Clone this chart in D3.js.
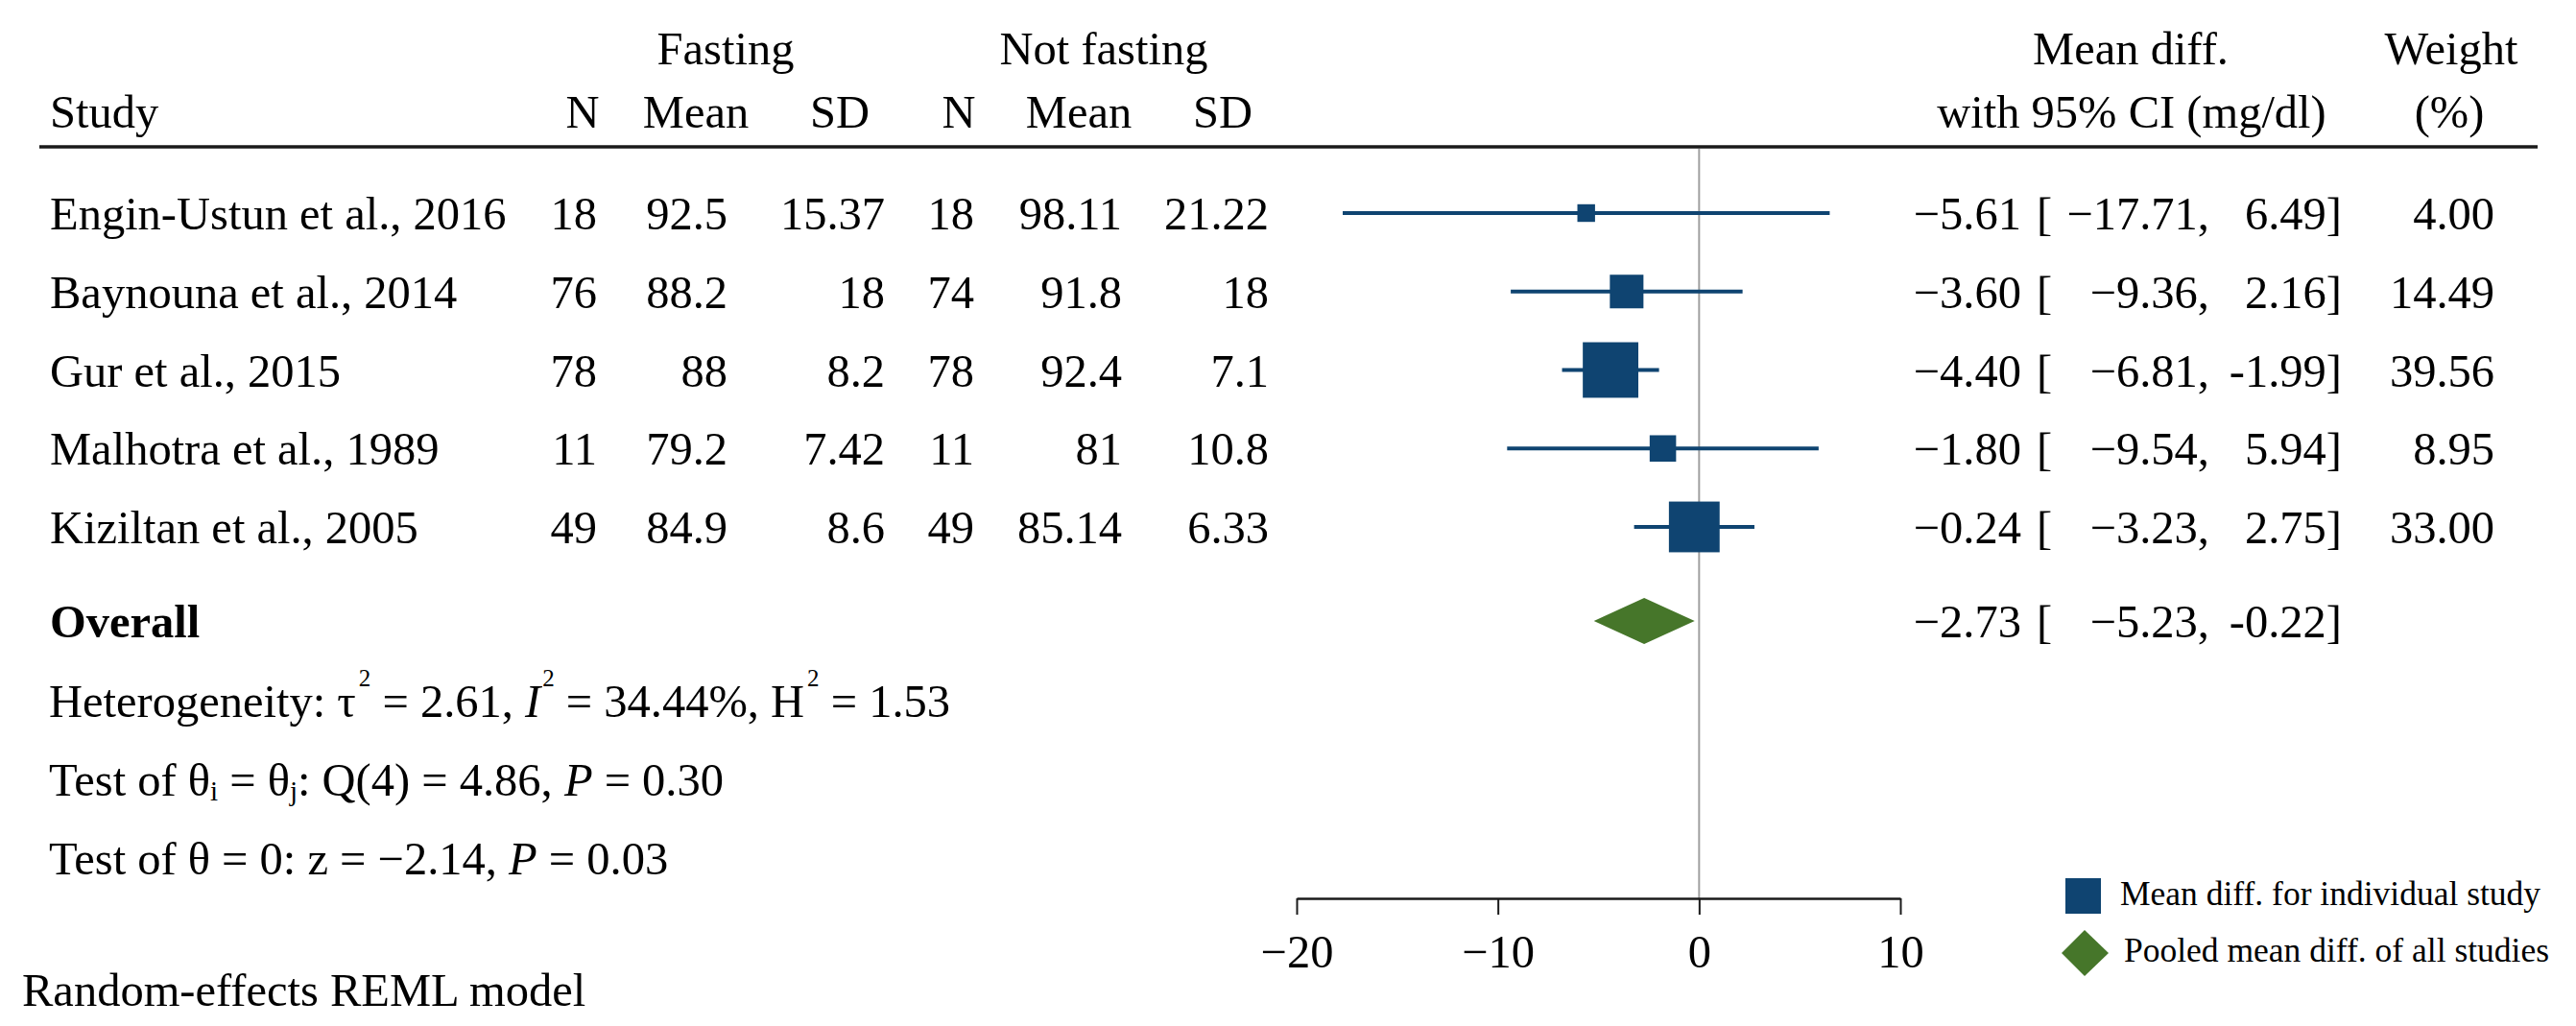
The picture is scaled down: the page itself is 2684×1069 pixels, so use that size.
<!DOCTYPE html>
<html>
<head>
<meta charset="utf-8">
<script src="https://cdn.jsdelivr.net/npm/d3@7"></script>
<style>
  body { margin: 0; background: #fff; }
  text { font-family: "Liberation Serif", "Times New Roman", serif; fill: #000; }
</style>
</head>
<body>
<div id="chart"></div>
<script>
const width = 2684, height = 1069;

// data
const studies = ["Engin-Ustun et al., 2016", "Baynouna et al., 2014", "Gur et al., 2015", "Malhotra et al., 1989", "Kiziltan et al., 2005"];
const fastN = [18, 76, 78, 11, 49];
const fastMean = [92.5, 88.2, 88, 79.2, 84.9];
const fastSD = [15.37, 18, 8.2, 7.42, 8.6];
const notN = [18, 74, 78, 11, 49];
const notMean = [98.11, 91.8, 92.4, 81, 85.14];
const notSD = [21.22, 18, 7.1, 10.8, 6.33];
const meanDiff = [-5.61, -3.60, -4.40, -1.80, -0.24];
const ciLow = [-17.71, -9.36, -6.81, -9.54, -3.23];
const ciHigh = [6.49, 2.16, -1.99, 5.94, 2.75];
const weights = [4.00, 14.49, 39.56, 8.95, 33.00];
const overallMD = [-2.73];
const overallLow = [-5.23];
const overallHigh = [-0.22];
const xTicks = [-20, -10, 0, 10];

const blue = "#0f4471", green = "#46762a";
const fs = 48.5;

const svg = d3.select("#chart")
  .append("svg")
  .attr("width", width)
  .attr("height", height);

svg.append("rect").attr("width", width).attr("height", height).attr("fill", "#fff");

const x = d3.scaleLinear().domain([-20, 10]).range([1351, 1980]);
// row index -> vertical centre of the row
const y = d3.scaleLinear().domain([0, 1]).range([222, 303.75]);
const side = d3.scaleSqrt().domain([0, 40]).range([0, 9.2 * Math.sqrt(40)]);

const f2 = d3.format(".2f");
const minus = v => (v < 0 ? "\u2212" : "") + f2(Math.abs(v));
const hyph = v => (v < 0 ? "-" : "") + f2(Math.abs(v)); // upper bound uses a plain hyphen in the source

const rows = studies.map((s, i) => ({
  study: s, fn: fastN[i], fm: fastMean[i], fsd: fastSD[i],
  nn: notN[i], nm: notMean[i], nsd: notSD[i],
  md: meanDiff[i], lo: ciLow[i], hi: ciHigh[i], w: weights[i], i: i
}));

// headers
const hdr = svg.append("g").style("font-size", fs + "px");
[
  ["Fasting", 756, 67], ["Not fasting", 1150, 67],
  ["N", 607, 133], ["Mean", 725, 133], ["SD", 875, 133],
  ["N", 999, 133], ["Mean", 1124, 133], ["SD", 1274, 133],
  ["Mean diff.", 2220, 67], ["with 95% CI (mg/dl)", 2221, 133],
  ["Weight", 2554, 67], ["(%)", 2552, 133]
].forEach(h => hdr.append("text").attr("x", h[1]).attr("y", h[2]).attr("text-anchor", "middle").text(h[0]));
hdr.append("text").attr("x", 52).attr("y", 133).text("Study");

svg.append("line")
  .attr("x1", 41).attr("x2", 2644).attr("y1", 153).attr("y2", 153)
  .attr("stroke", "#1a1a1a").attr("stroke-width", 3.5);

// no-effect line
svg.append("line")
  .attr("x1", x(0)).attr("x2", x(0)).attr("y1", 155).attr("y2", 936)
  .attr("stroke", "#a0a0a0").attr("stroke-width", 2);

// table columns
const cols = [
  { x: 622, f: d => d.fn },
  { x: 758, f: d => d.fm },
  { x: 922, f: d => d.fsd },
  { x: 1015, f: d => d.nn },
  { x: 1169, f: d => d.nm },
  { x: 1322, f: d => d.nsd },
  { x: 2106, f: d => minus(d.md) },
  { x: 2302, f: d => minus(d.lo) + "," },
  { x: 2440, f: d => hyph(d.hi) + "]" },
  { x: 2599, f: d => f2(d.w) }
];

const tbl = svg.append("g").style("font-size", fs + "px");
tbl.selectAll("text.study")
  .data(rows)
  .join("text")
  .attr("class", "study")
  .attr("x", 52)
  .attr("y", d => y(d.i) + 17)
  .text(d => d.study);

cols.forEach(c => {
  tbl.append("g")
    .selectAll("text")
    .data(rows)
    .join("text")
    .attr("x", c.x)
    .attr("y", d => y(d.i) + 17)
    .attr("text-anchor", "end")
    .text(c.f);
});
tbl.append("g")
  .selectAll("text")
  .data(rows)
  .join("text")
  .attr("x", 2122)
  .attr("y", d => y(d.i) + 17)
  .text("[");

// CI lines and squares
svg.append("g")
  .selectAll("line")
  .data(rows)
  .join("line")
  .attr("x1", d => x(d.lo)).attr("x2", d => x(d.hi))
  .attr("y1", d => y(d.i)).attr("y2", d => y(d.i))
  .attr("stroke", blue).attr("stroke-width", 4);

svg.append("g")
  .selectAll("rect")
  .data(rows)
  .join("rect")
  .attr("x", d => x(d.md) - side(d.w) / 2)
  .attr("y", d => y(d.i) - side(d.w) / 2)
  .attr("width", d => side(d.w))
  .attr("height", d => side(d.w))
  .attr("fill", blue);

// overall
const yo = y(5.2);
svg.append("text").style("font-size", fs + "px").style("font-weight", "bold")
  .attr("x", 52).attr("y", yo + 17).text("Overall");

svg.append("g")
  .selectAll("path")
  .data(overallMD.map((m, i) => ({ m: m, lo: overallLow[i], hi: overallHigh[i] })))
  .join("path")
  .attr("d", d => `M${x(d.lo)},${yo} L${x(d.m)},${yo - 24} L${x(d.hi)},${yo} L${x(d.m)},${yo + 24} Z`)
  .attr("fill", green);

const ov = svg.append("g").style("font-size", fs + "px");
ov.append("text").attr("x", 2106).attr("y", yo + 17).attr("text-anchor", "end").text(minus(overallMD[0]));
ov.append("text").attr("x", 2122).attr("y", yo + 17).text("[");
ov.append("text").attr("x", 2302).attr("y", yo + 17).attr("text-anchor", "end").text(minus(overallLow[0]) + ",");
ov.append("text").attr("x", 2440).attr("y", yo + 17).attr("text-anchor", "end").text(hyph(overallHigh[0]) + "]");

// statistics lines
const st = svg.append("g").style("font-size", fs + "px");
const het = st.append("text").attr("x", 51).attr("y", y(6.22) + 17);
het.append("tspan").text("Heterogeneity: \u03c4");
het.append("tspan").attr("dy", -32).attr("dx", 3).style("font-size", "25px").text("2");
het.append("tspan").attr("dy", 32).text(" = 2.61, ");
het.append("tspan").style("font-style", "italic").text("I");
het.append("tspan").attr("dy", -32).attr("dx", 2).style("font-size", "25px").text("2");
het.append("tspan").attr("dy", 32).text(" = 34.44%, H");
het.append("tspan").attr("dy", -32).attr("dx", 3).style("font-size", "25px").text("2");
het.append("tspan").attr("dy", 32).text(" = 1.53");

const t1 = st.append("text").attr("x", 51).attr("y", y(7.22) + 17);
t1.append("tspan").text("Test of \u03b8");
t1.append("tspan").attr("dy", 5).style("font-size", "29px").text("i");
t1.append("tspan").attr("dy", -5).text(" = \u03b8");
t1.append("tspan").attr("dy", 5).style("font-size", "29px").text("j");
t1.append("tspan").attr("dy", -5).text(": Q(4) = 4.86, ");
t1.append("tspan").style("font-style", "italic").text("P");
t1.append("tspan").text(" = 0.30");

const t2 = st.append("text").attr("x", 51).attr("y", y(8.22) + 17);
t2.append("tspan").text("Test of \u03b8 = 0: z = \u22122.14, ");
t2.append("tspan").style("font-style", "italic").text("P");
t2.append("tspan").text(" = 0.03");

st.append("text").attr("x", 23).attr("y", 1048).text("Random-effects REML model");

// axis
const axis = svg.append("g")
  .attr("transform", "translate(0,936)")
  .call(d3.axisBottom(x).tickValues(xTicks).tickSize(17).tickSizeOuter(0).tickPadding(21));
axis.select(".domain").attr("stroke", "#1a1a1a").attr("stroke-width", 2.5);
axis.selectAll(".tick line").attr("stroke", "#1a1a1a").attr("stroke-width", 2);
axis.selectAll(".tick text")
  .style("font-size", fs + "px")
  .style("font-family", "'Liberation Serif', 'Times New Roman', serif")
  .attr("fill", "#000");

// legend
const lg = svg.append("g").style("font-size", "35.5px");
lg.append("rect").attr("x", 2152).attr("y", 915).attr("width", 37).attr("height", 37).attr("fill", blue);
lg.append("text").attr("x", 2209).attr("y", 943).text("Mean diff. for individual study");
lg.append("path")
  .attr("d", "M2148,993 L2172,969 L2197,993 L2172,1017 Z")
  .attr("fill", green);
lg.append("text").attr("x", 2213).attr("y", 1002).text("Pooled mean diff. of all studies");
</script>
</body>
</html>
